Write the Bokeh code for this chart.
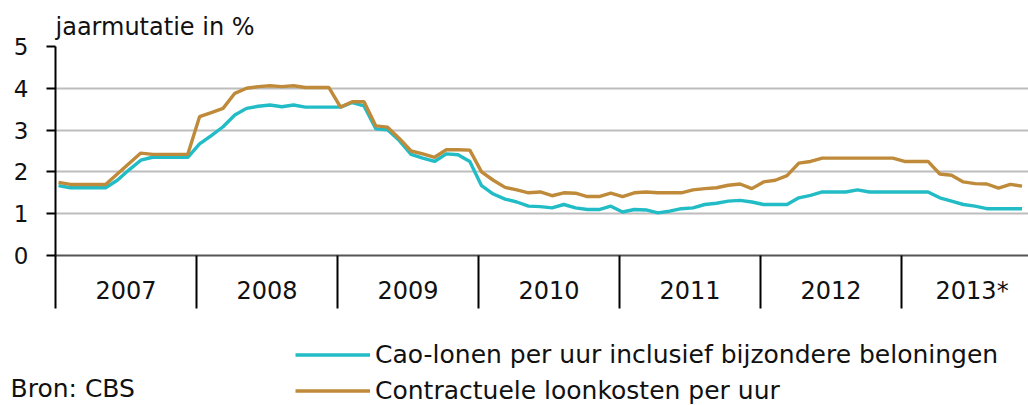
from bokeh.plotting import figure
from bokeh.layouts import column
from bokeh.models import FixedTicker, Legend, LegendItem, Label, Range1d
from bokeh.embed import file_html
from bokeh.resources import INLINE

# Data: monthly, Jan 2007 .. Nov 2013 (jaarmutatie in %)
jaren = ["2007", "2008", "2009", "2010", "2011", "2012", "2013*"]

cao_lonen = [
    1.67, 1.62, 1.62, 1.62, 1.62, 1.80, 2.05, 2.28, 2.35, 2.35, 2.35, 2.35,   # 2007
    2.67, 2.87, 3.08, 3.36, 3.52, 3.57, 3.60, 3.56, 3.60, 3.55, 3.55, 3.55,   # 2008
    3.55, 3.66, 3.58, 3.03, 3.01, 2.75, 2.42, 2.33, 2.25, 2.43, 2.41, 2.25,   # 2009
    1.67, 1.47, 1.35, 1.28, 1.18, 1.17, 1.14, 1.22, 1.14, 1.10, 1.10, 1.18,   # 2010
    1.04, 1.10, 1.09, 1.02, 1.06, 1.12, 1.14, 1.22, 1.25, 1.30, 1.32, 1.28,   # 2011
    1.22, 1.22, 1.22, 1.38, 1.44, 1.52, 1.52, 1.52, 1.57, 1.52, 1.52, 1.52,   # 2012
    1.52, 1.52, 1.52, 1.38, 1.30, 1.22, 1.18, 1.12, 1.12, 1.12, 1.12,         # 2013
]

loonkosten = [
    1.75, 1.70, 1.70, 1.70, 1.70, 1.95, 2.20, 2.45, 2.42, 2.42, 2.42, 2.42,   # 2007
    3.32, 3.42, 3.52, 3.88, 4.00, 4.04, 4.06, 4.04, 4.06, 4.02, 4.02, 4.02,   # 2008
    3.55, 3.68, 3.68, 3.10, 3.07, 2.80, 2.50, 2.43, 2.35, 2.53, 2.53, 2.52,   # 2009
    2.00, 1.80, 1.63, 1.57, 1.50, 1.52, 1.43, 1.50, 1.49, 1.41, 1.41, 1.49,   # 2010
    1.41, 1.50, 1.52, 1.50, 1.50, 1.50, 1.57, 1.60, 1.62, 1.68, 1.71, 1.60,   # 2011
    1.76, 1.80, 1.91, 2.21, 2.25, 2.33, 2.33, 2.33, 2.33, 2.33, 2.33, 2.33,   # 2012
    2.25, 2.25, 2.25, 1.95, 1.92, 1.76, 1.72, 1.71, 1.61, 1.70, 1.66,         # 2013
]

serie_namen = ["Cao-lonen per uur inclusief bijzondere beloningen",
               "Contractuele loonkosten per uur"]
kleuren = ["#22BCC6", "#BF8A3A"]
y_ticks = [0, 1, 2, 3, 4, 5]

maanden = list(range(len(cao_lonen)))

FONT = "DejaVu Sans"
TXT = "#111111"

# ---------------- main chart ----------------
p = figure(width=1028, height=315, output_backend="svg", toolbar_location=None,
           x_range=Range1d(-0.26, 82.55), y_range=Range1d(0, 5),
           min_border_left=55, min_border_right=0, min_border_top=46,
           min_border_bottom=60)
p.outline_line_color = None
p.background_fill_color = "white"
p.border_fill_color = "white"

p.title.text = "jaarmutatie in %"
p.title.align = "left"
p.title.text_font = FONT
p.title.text_font_size = "24px"
p.title.text_font_style = "normal"
p.title.text_color = TXT
p.title.standoff = 11
p.title.offset = 0

r1 = p.line(maanden, cao_lonen, line_color=kleuren[0], line_width=3.4)
r2 = p.line(maanden, loonkosten, line_color=kleuren[1], line_width=3.4)

p.xgrid.visible = False
p.ygrid.ticker = FixedTicker(ticks=y_ticks)
p.ygrid.grid_line_color = "#BDBDBD"
p.ygrid.grid_line_width = 2

ya = p.yaxis[0]
ya.ticker = FixedTicker(ticks=y_ticks)
ya.axis_line_color = "black"
ya.axis_line_width = 2
ya.major_tick_line_color = "black"
ya.major_tick_line_width = 2
ya.major_tick_out = 9
ya.major_tick_in = 0
ya.minor_tick_line_color = None
ya.major_label_text_font = FONT
ya.major_label_text_font_size = "23px"
ya.major_label_text_color = TXT
ya.major_label_standoff = 18

grenzen = [-0.25 + 12 * k for k in range(len(jaren))]
midden = [g + 6 for g in grenzen]
xa = p.xaxis[0]
xa.ticker = FixedTicker(ticks=midden, minor_ticks=grenzen)
xa.major_label_overrides = {m: j for m, j in zip(midden, jaren)}
xa.axis_line_color = "#555555"
xa.axis_line_width = 2
xa.major_tick_line_color = None
xa.major_tick_out = 0
xa.major_tick_in = 0
xa.minor_tick_line_color = "black"
xa.minor_tick_line_width = 2
xa.minor_tick_out = 53
xa.minor_tick_in = 0
xa.major_label_text_font = FONT
xa.major_label_text_font_size = "24px"
xa.major_label_text_color = TXT
xa.major_label_standoff = -32

# ---------------- legend + source strip ----------------
# ranges chosen so the proxy series stay off-screen; only their legend swatches show
p2 = figure(width=1028, height=90, output_backend="svg", toolbar_location=None,
            x_range=Range1d(-2000, -1000), y_range=Range1d(-2000, -1000),
            x_axis_type=None, y_axis_type=None,
            min_border=0, min_border_left=0, min_border_right=0,
            min_border_top=0, min_border_bottom=0)
p2.outline_line_color = None
p2.xgrid.visible = False
p2.ygrid.visible = False
p2.background_fill_color = "white"
p2.border_fill_color = "white"

for f in (p, p2):
    try:
        f.frame_align = False
    except Exception:
        pass

l1 = p2.line(maanden, cao_lonen, line_color=kleuren[0], line_width=3.4)
l2 = p2.line(maanden, loonkosten, line_color=kleuren[1], line_width=3.4)

legend = Legend(items=[LegendItem(label=serie_namen[0], renderers=[l1]),
                       LegendItem(label=serie_namen[1], renderers=[l2])],
                location=(295, 0), orientation="vertical",
                padding=0, margin=0, spacing=7,
                glyph_width=75, glyph_height=29, label_height=29,
                label_standoff=5,
                label_text_font=FONT, label_text_font_size="25px",
                label_text_color=TXT,
                border_line_color=None, background_fill_alpha=0)
p2.add_layout(legend, "center")

p2.add_layout(Label(x=10, y=17, x_units="screen", y_units="screen",
                    text="Bron: CBS", text_font=FONT,
                    text_font_size="25px", text_color=TXT,
                    text_align="left", text_baseline="middle"))

lay = column(p, p2, spacing=0)
open("out.html", "w").write(file_html(lay, INLINE))
